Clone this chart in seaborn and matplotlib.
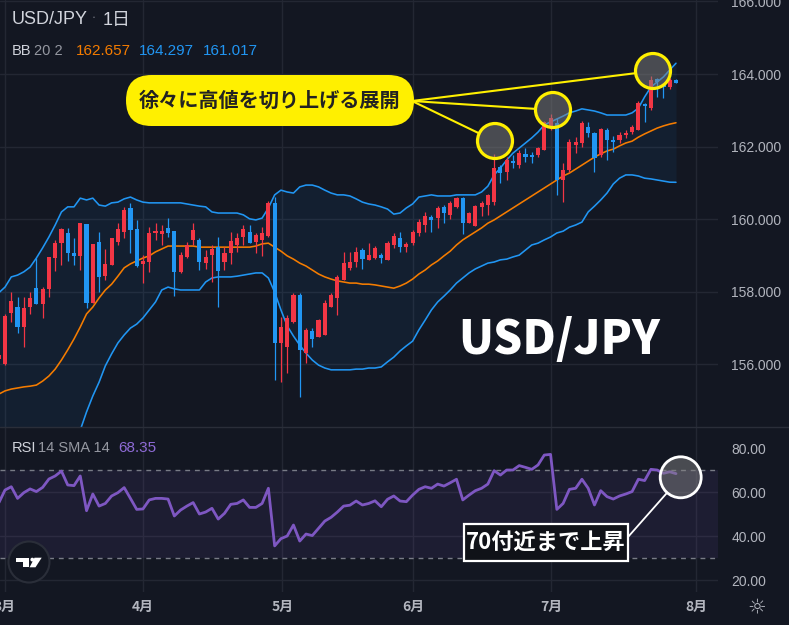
import numpy as np
import pandas as pd
import matplotlib.pyplot as plt
import seaborn as sns
from matplotlib.patches import Circle, FancyBboxPatch, Rectangle, Polygon

# daily candles (USD/JPY)
opens = [156.15, 156.01, 157.42, 157.58, 157.03, 157.58, 158.10, 157.66, 158.08, 158.93,
         159.34, 159.62, 159.07, 158.99, 159.87, 157.69, 159.37, 158.43, 158.74, 159.37,
         159.65, 160.31, 159.73, 158.77, 158.82, 159.62, 159.59, 159.76, 159.67, 158.55,
         158.96, 159.43, 159.43, 158.79, 159.01, 159.23, 158.82, 159.07, 159.29, 159.51,
         159.65, 159.37, 159.43, 159.54, 160.45, 156.59, 156.48, 157.17, 157.91, 156.31,
         156.92, 156.75, 156.81, 157.58, 157.83, 158.32, 158.66, 158.82, 159.15, 158.88,
         158.93, 159.00, 158.88, 159.29, 159.48, 159.23, 159.34, 159.62, 159.84, 160.06,
         160.03, 160.34, 160.12, 160.34, 160.58, 159.90, 159.81, 160.34, 160.39, 160.47,
         161.44, 161.30, 161.60, 161.49, 161.80, 161.77, 161.77, 161.91, 162.54, 162.65,
         161.08, 161.36, 162.04, 162.10, 162.54, 162.37, 161.77, 162.46, 162.18, 162.18,
         162.32, 162.40, 162.46, 163.17, 163.06, 163.86, 163.70, 163.64, 163.83]
highs = [156.30, 157.40, 158.00, 157.86, 157.86, 158.00, 158.93, 158.13, 158.96, 159.43,
         159.76, 159.76, 159.48, 159.90, 159.87, 159.32, 159.65, 159.18, 159.48, 159.90,
         160.34, 160.45, 159.98, 159.01, 159.78, 159.90, 159.84, 160.03, 159.67, 159.10,
         159.37, 159.90, 159.48, 159.15, 159.29, 159.51, 159.23, 159.65, 159.62, 159.84,
         159.84, 159.62, 159.78, 160.50, 160.61, 157.31, 157.36, 157.97, 157.97, 157.00,
         157.00, 157.25, 157.77, 157.97, 158.46, 159.10, 159.10, 159.23, 159.20, 159.34,
         159.26, 159.07, 159.40, 159.62, 159.65, 159.37, 159.70, 160.00, 160.20, 160.12,
         160.35, 160.39, 160.50, 160.60, 160.60, 160.20, 160.40, 160.50, 160.70, 161.80,
         161.50, 161.71, 161.77, 161.90, 161.96, 161.85, 162.00, 162.70, 162.90, 162.79,
         161.55, 162.20, 162.27, 162.70, 162.68, 162.40, 162.50, 162.50, 162.30, 162.40,
         162.45, 162.60, 163.25, 163.20, 163.94, 163.90, 163.75, 163.90, 163.86]
lows = [156.05, 155.98, 157.17, 156.86, 156.48, 157.39, 157.66, 157.28, 157.86, 158.57,
        158.74, 158.85, 158.74, 158.60, 157.55, 157.69, 158.00, 158.32, 158.74, 159.29,
        159.48, 159.07, 158.68, 158.24, 158.55, 159.43, 159.29, 159.51, 157.88, 158.52,
        158.93, 159.29, 158.60, 158.63, 158.27, 157.58, 158.60, 158.77, 159.10, 159.29,
        159.34, 159.07, 158.99, 159.50, 155.57, 155.51, 155.76, 157.14, 155.10, 156.04,
        156.48, 156.75, 156.81, 157.58, 157.36, 158.32, 158.60, 158.68, 158.63, 158.88,
        158.90, 158.80, 158.88, 159.20, 159.10, 159.10, 159.30, 159.55, 159.65, 159.65,
        159.76, 159.90, 160.00, 160.30, 159.59, 159.90, 159.80, 160.10, 160.12, 160.40,
        161.00, 161.08, 161.41, 161.40, 161.58, 161.55, 161.70, 161.90, 162.46, 160.67,
        160.47, 161.30, 161.82, 162.00, 162.26, 161.30, 161.70, 161.63, 161.85, 162.10,
        162.25, 162.35, 162.45, 162.68, 163.00, 163.37, 163.34, 163.60, 163.74]
closes = [156.25, 157.33, 157.75, 157.03, 157.55, 157.83, 157.66, 158.08, 158.96, 159.34,
          159.73, 159.07, 158.99, 159.90, 157.69, 159.32, 158.41, 158.77, 159.48, 159.73,
          160.25, 159.70, 158.71, 158.85, 159.62, 159.67, 159.67, 159.62, 158.55, 159.01,
          159.29, 159.70, 158.82, 158.96, 159.18, 158.57, 159.07, 159.40, 159.48, 159.73,
          159.34, 159.56, 159.62, 160.45, 156.59, 157.03, 157.28, 157.91, 156.40, 156.95,
          156.70, 157.22, 157.69, 157.91, 158.41, 158.79, 158.82, 159.10, 158.90, 159.01,
          159.20, 158.93, 159.34, 159.54, 159.23, 159.32, 159.65, 159.92, 160.09, 159.98,
          160.31, 160.17, 160.45, 160.58, 159.90, 160.17, 160.36, 160.45, 160.67, 161.41,
          161.27, 161.63, 161.55, 161.82, 161.71, 161.71, 161.96, 162.68, 162.79, 161.08,
          161.36, 162.13, 162.13, 162.65, 162.37, 161.69, 162.49, 162.18, 162.13, 162.32,
          162.37, 162.54, 163.20, 163.12, 163.83, 163.78, 163.64, 163.83, 163.76]

# Bollinger bands (20, 2)
bb_upper = [157.97, 158.13, 158.41, 158.46, 158.55, 158.68, 158.93, 159.21, 159.51, 159.84,
            160.20, 160.34, 160.34, 160.58, 160.53, 160.58, 160.39, 160.36, 160.45, 160.47,
            160.56, 160.61, 160.53, 160.47, 160.45, 160.45, 160.45, 160.45, 160.45, 160.45,
            160.42, 160.39, 160.36, 160.34, 160.20, 160.17, 160.17, 160.17, 160.17, 160.12,
            160.01, 159.98, 160.03, 160.31, 160.67, 160.80, 160.75, 160.72, 160.89, 160.94,
            160.94, 160.89, 160.80, 160.72, 160.67, 160.67, 160.64, 160.56, 160.47, 160.42,
            160.39, 160.34, 160.28, 160.14, 160.17, 160.31, 160.42, 160.61, 160.64, 160.67,
            160.64, 160.64, 160.64, 160.67, 160.67, 160.67, 160.67, 160.75, 160.91, 161.22,
            161.41, 161.63, 161.82, 161.96, 162.10, 162.24, 162.40, 162.60, 162.68, 162.76,
            162.84, 162.93, 162.98, 163.04, 163.01, 162.98, 162.93, 162.87, 162.87, 162.87,
            162.87, 162.93, 163.06, 163.37, 163.64, 163.78, 163.92, 164.11, 164.297]
bb_basis = [155.18, 155.27, 155.32, 155.35, 155.38, 155.40, 155.43, 155.54, 155.68, 155.87,
            156.12, 156.40, 156.70, 157.03, 157.39, 157.58, 157.83, 158.05, 158.21, 158.43,
            158.66, 158.77, 158.85, 158.93, 158.99, 159.10, 159.18, 159.26, 159.26, 159.26,
            159.26, 159.26, 159.23, 159.23, 159.23, 159.23, 159.23, 159.23, 159.23, 159.23,
            159.23, 159.26, 159.32, 159.34, 159.23, 159.12, 158.99, 158.90, 158.79, 158.71,
            158.60, 158.49, 158.41, 158.35, 158.30, 158.27, 158.24, 158.24, 158.21, 158.21,
            158.19, 158.16, 158.13, 158.10, 158.16, 158.24, 158.35, 158.49, 158.60, 158.74,
            158.85, 158.99, 159.12, 159.29, 159.43, 159.54, 159.65, 159.76, 159.89, 159.98,
            160.09, 160.20, 160.31, 160.42, 160.53, 160.64, 160.75, 160.86, 160.97, 161.08,
            161.19, 161.27, 161.38, 161.49, 161.60, 161.71, 161.80, 161.88, 161.93, 162.02,
            162.10, 162.15, 162.26, 162.35, 162.43, 162.51, 162.57, 162.62, 162.657]
bb_lower = [151.38, 151.44, 151.49, 151.58, 151.71, 151.85, 152.04, 152.26, 152.54, 152.81,
            153.09, 153.42, 153.78, 154.19, 154.69, 155.13, 155.51, 155.96, 156.29, 156.59,
            156.81, 157.00, 157.11, 157.28, 157.50, 157.72, 158.05, 158.13, 158.08, 158.05,
            158.05, 158.05, 158.05, 158.27, 158.38, 158.41, 158.41, 158.41, 158.43, 158.46,
            158.49, 158.52, 158.52, 158.38, 157.99, 157.50, 157.06, 156.78, 156.53, 156.31,
            156.12, 155.98, 155.90, 155.85, 155.85, 155.85, 155.85, 155.87, 155.87, 155.90,
            155.90, 155.93, 156.07, 156.20, 156.37, 156.51, 156.64, 156.95, 157.22, 157.50,
            157.72, 157.88, 158.05, 158.24, 158.38, 158.52, 158.63, 158.71, 158.79, 158.82,
            158.88, 158.90, 158.96, 159.01, 159.15, 159.29, 159.34, 159.43, 159.51, 159.62,
            159.67, 159.78, 159.84, 159.92, 160.20, 160.36, 160.53, 160.72, 160.97, 161.13,
            161.22, 161.22, 161.19, 161.13, 161.11, 161.08, 161.05, 161.02, 161.017]

# RSI 14
rsi = [55.0, 60.9, 62.4, 57.1, 59.7, 61.4, 60.2, 62.1, 65.9, 67.3,
       69.5, 63.2, 62.9, 67.3, 51.5, 59.1, 53.6, 54.8, 58.2, 59.7,
       62.0, 57.1, 52.1, 52.3, 56.4, 57.1, 57.1, 56.8, 49.1, 51.8,
       53.6, 55.2, 50.0, 50.9, 52.6, 47.7, 50.3, 54.4, 54.8, 56.4,
       53.0, 53.0, 54.8, 61.7, 35.5, 38.8, 40.0, 45.0, 37.7, 40.9,
       40.2, 43.5, 46.8, 48.5, 50.9, 53.6, 54.0, 55.9, 54.1, 54.8,
       56.0, 53.3, 56.7, 58.2, 55.9, 55.6, 58.6, 61.2, 62.4, 61.7,
       63.6, 62.7, 64.2, 65.8, 56.4, 58.6, 60.6, 61.7, 63.6, 69.7,
       67.7, 70.0, 70.0, 72.0, 71.2, 70.3, 72.3, 76.8, 77.1, 52.1,
       54.8, 61.2, 61.7, 65.8, 61.7, 54.1, 60.6, 57.9, 56.8, 58.2,
       59.1, 60.2, 65.8, 65.2, 70.3, 70.0, 68.5, 69.2, 68.35]

month_labels = ['3月', '4月', '5月', '6月', '7月', '8月']
month_bars = [1.0, 23.0, 45.2, 66.1, 88.1, 111.2]
price_ticks = [156, 158, 160, 162, 164, 166]
rsi_ticks = [20, 40, 60, 80]

df = pd.DataFrame({'open': opens, 'high': highs, 'low': lows, 'close': closes,
                   'upper': bb_upper, 'basis': bb_basis, 'lower': bb_lower, 'rsi': rsi})
df['bar'] = np.arange(len(df))

bg = '#131722'
grid_c = '#232733'
txt_c = '#b2b5be'
red = '#F23645'
blue = '#2196F3'
orange = '#F57C00'
purple = '#7E57C2'
yellow = '#FFF000'

sns.set_style('dark', rc={'axes.facecolor': bg, 'figure.facecolor': bg,
                          'axes.edgecolor': bg, 'text.color': txt_c,
                          'xtick.color': txt_c, 'ytick.color': txt_c})
plt.rcParams['font.family'] = ['Liberation Sans', 'Noto Sans CJK JP', 'DejaVu Sans']

W, H = 789, 625
fig = plt.figure(figsize=(W / 100, H / 100), dpi=100)


def box(x0, y0, x1, y1):
    return [x0 / W, 1 - y1 / H, (x1 - x0) / W, (y1 - y0) / H]


ax = fig.add_axes(box(0, 0, 718, 427))
axr = fig.add_axes(box(0, 427, 718, 592), sharex=ax)

# price panel
ax.fill_between(df['bar'], df['lower'], df['upper'], color=blue, alpha=0.07, lw=0, zorder=1)
sns.lineplot(x=df['bar'], y=df['upper'], ax=ax, color=blue, linewidth=1.15, zorder=2)
sns.lineplot(x=df['bar'], y=df['lower'], ax=ax, color=blue, linewidth=1.15, zorder=2)
sns.lineplot(x=df['bar'], y=df['basis'], ax=ax, color=orange, linewidth=1.15, zorder=2)

col = np.where(df['close'] >= df['open'], red, blue)
ax.vlines(df['bar'], df['low'], df['high'], colors=col, lw=0.9, zorder=3)
body = (df['close'] - df['open']).abs().clip(lower=0.03)
ax.bar(df['bar'], body, bottom=df[['open', 'close']].min(axis=1), width=0.66,
       color=col, lw=0, zorder=4)

ax.set_xlim(0.2, 114.7)
ax.set_ylim(154.275, 166.039)
ax.yaxis.tick_right()
ax.set_yticks(price_ticks, [f'{t:.3f}' for t in price_ticks])
ax.set_xticks(month_bars)
ax.tick_params(axis='x', labelbottom=False, length=0)
ax.tick_params(axis='y', length=0, pad=9.5, labelsize=10, labelcolor=txt_c)
ax.grid(True, color=grid_c, lw=1)
ax.set_xlabel('')
ax.set_ylabel('')

# RSI panel
axr.axhspan(30, 70, color=purple, alpha=0.1, lw=0, zorder=1)
for lv in rsi_ticks[:-1]:
    axr.axhline(lv, color=grid_c, lw=1, zorder=0)
for lv in (70, 30):
    axr.axhline(lv, color='#787b86', lw=1, ls=(0, (3.5, 3.5)), zorder=2)
sns.lineplot(x=df['bar'], y=df['rsi'], ax=axr, color=purple, linewidth=2.0, zorder=3)
axr.set_ylim(14.55, 89.55)
axr.yaxis.tick_right()
axr.set_yticks(rsi_ticks, [f'{t:.2f}' for t in rsi_ticks])
axr.set_xticks(month_bars, month_labels)
axr.grid(True, axis='x', color=grid_c, lw=1)
axr.tick_params(axis='y', length=0, pad=9.5, labelsize=10, labelcolor=txt_c)
axr.tick_params(axis='x', length=0, pad=5.5, labelsize=10, labelcolor=txt_c)
for lab in axr.get_xticklabels():
    lab.set_fontfamily(['Noto Sans CJK JP'])
    lab.set_fontweight('bold')
axr.set_xlabel('')
axr.set_ylabel('')
for a in (ax, axr):
    for s in a.spines.values():
        s.set_visible(False)

# overlay in pixel coordinates for labels and annotations
ov = fig.add_axes([0, 0, 1, 1], zorder=10)
ov.set_xlim(0, W)
ov.set_ylim(H, 0)
ov.axis('off')

ov.plot([0, W], [427, 427], color='#2a2e39', lw=1)

# header
ov.text(12, 20, 'USD/JPY', fontsize=13, color='#d1d4dc', va='center')
ov.text(94, 17, '•', fontsize=4, color='#787b86', va='center', ha='center')
ov.text(103, 20, '1日', fontsize=13, color='#d1d4dc', va='center')
ov.text(12, 51, 'BB', fontsize=10.5, color='#d1d4dc', va='center')
ov.text(34, 51, '20 2', fontsize=10.5, color='#9598a1', va='center')
ov.text(76, 51, f'{bb_basis[-1]:.3f}', fontsize=11, color=orange, va='center')
ov.text(139, 51, f'{bb_upper[-1]:.3f}', fontsize=11, color=blue, va='center')
ov.text(203, 51, f'{bb_lower[-1]:.3f}', fontsize=11, color=blue, va='center')

ov.text(12, 448, 'RSI', fontsize=10.5, color='#d1d4dc', va='center')
ov.text(38, 448, '14 SMA 14', fontsize=10.5, color='#9598a1', va='center')
ov.text(118, 448, f'{rsi[-1]:.2f}', fontsize=11, color='#8e6bd6', va='center')

# big title
ov.text(559, 340, 'USD/JPY', fontsize=33, fontweight='heavy', color='white',
        ha='center', va='center', family=['Noto Sans CJK JP'])

# yellow callout
ov.add_patch(FancyBboxPatch((126, 75), 288, 51, boxstyle='round,pad=0,rounding_size=25.5',
                            fc=yellow, ec='none'))
ov.text(270, 100, '徐々に高値を切り上げる展開', fontsize=14.5, fontweight='bold',
        color='#222222', ha='center', va='center', family=['Noto Sans CJK JP'])
hub = np.array([412.0, 101.0])
rad = 17.5
for c in [(495, 141), (553, 110), (653, 71)]:
    cc = np.array(c, dtype=float)
    d = cc - hub
    end = cc - d / np.hypot(*d) * rad
    ov.plot([hub[0], end[0]], [hub[1], end[1]], color=yellow, lw=1.5)
    ov.add_patch(Circle(c, rad, fc=(0.5, 0.5, 0.5, 0.5), ec=yellow, lw=2.3))

# RSI callout
rc = np.array([680.7, 477.3])
rr = 20.5
tgt = np.array([628.0, 537.0])
d = tgt - rc
st = rc + d / np.hypot(*d) * rr
ov.plot([st[0], tgt[0]], [st[1], tgt[1]], color='white', lw=1.3)
ov.add_patch(Circle(rc, rr, fc=(0.5, 0.5, 0.5, 0.5), ec='white', lw=2))
ov.add_patch(Rectangle((464, 524), 164, 37, fc='#101218', ec='white', lw=1.6))
ov.text(546, 543, '70付近まで上昇', fontsize=16, fontweight='bold', color='white',
        ha='center', va='center', family=['Noto Sans CJK JP'])

# TradingView badge
ov.add_patch(Circle((29, 562), 20.5, fc=bg, ec='#2a2e39', lw=1.5))
ov.add_patch(Polygon([(15.7, 557.7), (29.3, 557.7), (29.3, 567.3), (23.3, 567.3),
                      (23.3, 562), (15.7, 562)], fc='white', ec='none'))
ov.add_patch(Circle((32.3, 559.6), 1.9, fc='white', ec='none'))
ov.add_patch(Polygon([(34.5, 557.7), (41.7, 557.7), (35.5, 567.3), (29.6, 567.3)],
                     fc='white', ec='none'))

ov.text(757, 607, '☼', fontsize=15, color=txt_c, ha='center', va='center',
        family=['DejaVu Sans'])

fig.savefig('out.png', dpi=100, facecolor=bg)
